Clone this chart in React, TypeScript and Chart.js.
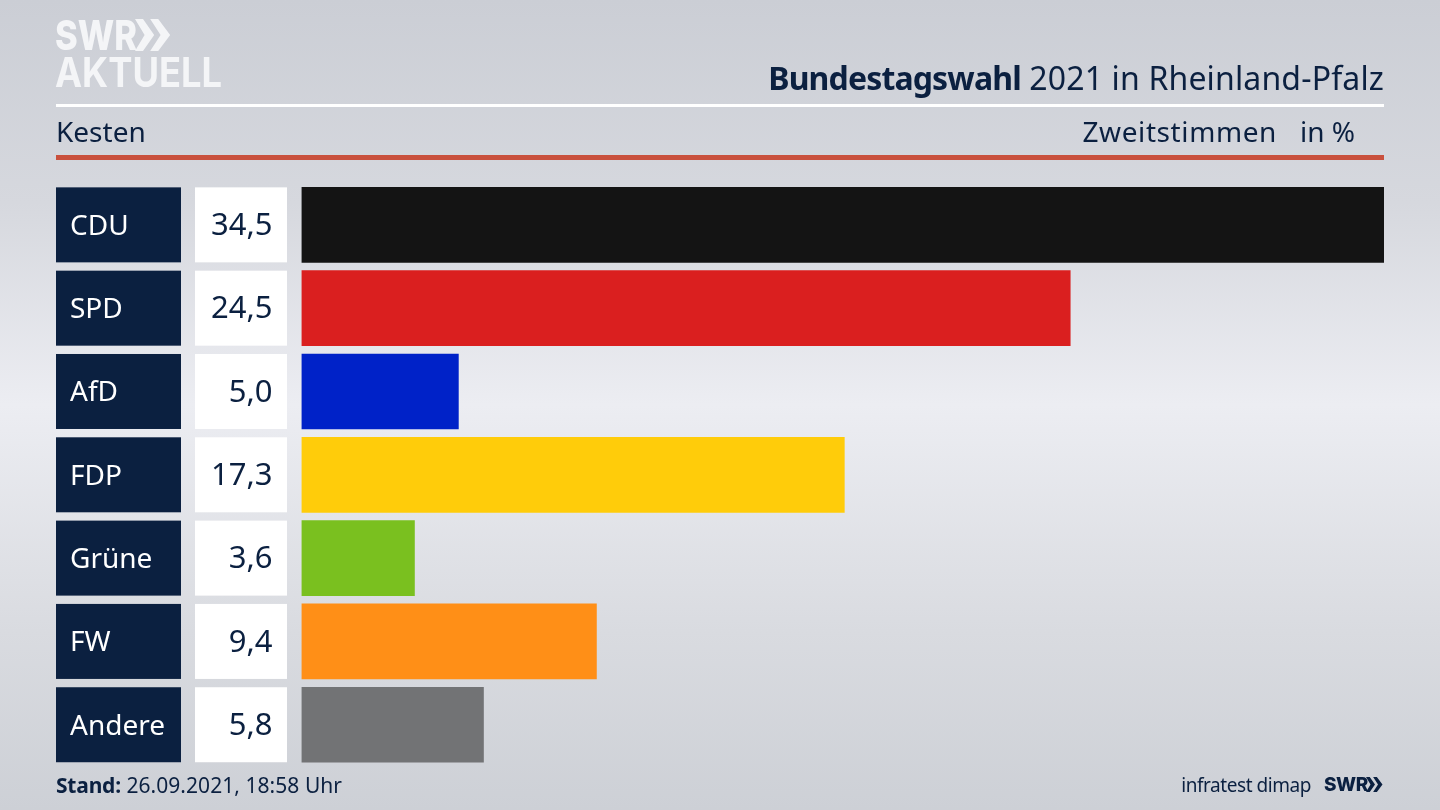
import { useEffect, useRef } from 'react';
import Chart from 'chart.js/auto';

const parties = ['CDU', 'SPD', 'AfD', 'FDP', 'Grüne', 'FW', 'Andere'];
const shares = [34.5, 24.5, 5.0, 17.3, 3.6, 9.4, 5.8];
const partyColors = ['#141414', '#da1f1f', '#0022c8', '#ffcc0a', '#7ac01f', '#ff8f17', '#727375'];

const NAVY = '#0b2040';
const LOGO = '#f4f5f7';
const FONT = '"Noto Sans", sans-serif';
const LOGO_FONT = 'Inter, sans-serif';

// party name and value tiles to the left of the bars, placed from the y scale
const tilesPlugin = {
  id: 'tiles',
  afterDatasetsDraw(chart: any) {
    const { ctx, scales } = chart;
    ctx.save();
    ctx.textBaseline = 'middle';
    parties.forEach((party, i) => {
      const y = scales.y.getPixelForValue(i);
      ctx.fillStyle = NAVY;
      ctx.fillRect(56, y - 37.5, 125, 75);
      ctx.fillStyle = '#ffffff';
      ctx.fillRect(195, y - 37.5, 92, 75);
      ctx.font = `28px ${FONT}`;
      ctx.textAlign = 'left';
      ctx.fillStyle = '#ffffff';
      ctx.fillText(party, 70, y + 2);
      ctx.font = `31px ${FONT}`;
      ctx.textAlign = 'right';
      ctx.fillStyle = NAVY;
      ctx.fillText(shares[i].toFixed(1).replace('.', ','), 272.5, y + 1.5);
    });
    ctx.restore();
  },
};

function Text({ style, children }: { style: React.CSSProperties; children: React.ReactNode }) {
  return (
    <div style={{ position: 'absolute', whiteSpace: 'nowrap', fontFamily: FONT, color: NAVY, ...style }}>
      {children}
    </div>
  );
}

function Chevrons({ x, y, h, color }: { x: number; y: number; h: number; color: string }) {
  return (
    <svg style={{ position: 'absolute', left: x, top: y }} width={h * 1.1} height={h} viewBox="0 0 44 40">
      <polygon points="0,0 10,0 24,20 10,40 0,40 12,20" fill={color} />
      <polygon points="19,0 29,0 44,20 29,40 19,40 32,20" fill={color} />
    </svg>
  );
}

export default function App() {
  const canvasRef = useRef<HTMLCanvasElement>(null);

  useEffect(() => {
    if (!canvasRef.current) return;
    const chart = new Chart(canvasRef.current, {
      type: 'bar',
      data: {
        labels: parties,
        datasets: [{
          data: shares,
          backgroundColor: partyColors,
          barThickness: 75,
        }],
      },
      options: {
        indexAxis: 'y',
        responsive: true,
        maintainAspectRatio: false,
        animation: false,
        layout: { padding: { left: 301.5, right: 56, top: 183.2, bottom: 43.6 } },
        plugins: { legend: { display: false }, tooltip: { enabled: false } },
        scales: {
          x: { display: false, min: 0, max: 34.5 },
          y: { display: false },
        },
      },
      plugins: [tilesPlugin],
    });
    return () => chart.destroy();
  }, []);

  return (
    <div style={{
      position: 'fixed', left: 0, top: 0, width: 1440, height: 810, overflow: 'hidden',
      background: 'linear-gradient(180deg, #cbced5 0%, #d6d8de 25%, #ecedf2 50%, #d9dbe0 78%, #cdd0d6 100%)',
    }}>
      <div style={{ position: 'absolute', left: 0, top: 0, width: 1440, height: 810 }}>
        <canvas ref={canvasRef} />
      </div>

      <Text style={{ left: 55, top: 10, fontSize: 41, lineHeight: '50px', fontWeight: 800, color: LOGO, fontFamily: LOGO_FONT, transform: 'scaleX(0.84)', transformOrigin: 'left' }}>SWR</Text>
      <Chevrons x={135} y={19} h={32} color={LOGO} />
      <Text style={{ left: 55, top: 47, fontSize: 41, lineHeight: '50px', fontWeight: 700, color: LOGO, fontFamily: LOGO_FONT, transform: 'scaleX(0.885)', transformOrigin: 'left' }}>AKTUELL</Text>

      <Text style={{ right: 56, top: 56, fontSize: 32, lineHeight: '44px', letterSpacing: 0.15 }}>
        <b style={{ letterSpacing: -0.85 }}>Bundestagswahl</b> 2021 in Rheinland-Pfalz
      </Text>
      <div style={{ position: 'absolute', left: 56, top: 104, width: 1328, height: 3, background: '#ffffff' }} />

      <Text style={{ left: 56, top: 111, fontSize: 28, lineHeight: '40px' }}>Kesten</Text>
      <Text style={{ right: 163, top: 111, fontSize: 28, lineHeight: '40px', letterSpacing: 0.6 }}>Zweitstimmen</Text>
      <Text style={{ right: 85, top: 111, fontSize: 28, lineHeight: '40px' }}>in %</Text>
      <div style={{ position: 'absolute', left: 56, top: 155, width: 1328, height: 5, background: '#c9503d' }} />

      <Text style={{ left: 56, top: 770, fontSize: 21, lineHeight: '30px', letterSpacing: 0.05 }}>
        <b style={{ letterSpacing: -0.2 }}>Stand:</b> 26.09.2021, 18:58 Uhr
      </Text>
      <Text style={{ right: 129, top: 771, fontSize: 19, lineHeight: '28px', letterSpacing: -0.45 }}>infratest dimap</Text>
      <Text style={{ left: 1324, top: 771, fontSize: 19, lineHeight: '28px', fontWeight: 800, fontFamily: LOGO_FONT, letterSpacing: -0.5 }}>SWR</Text>
      <Chevrons x={1366} y={777} h={15} color={NAVY} />
    </div>
  );
}
